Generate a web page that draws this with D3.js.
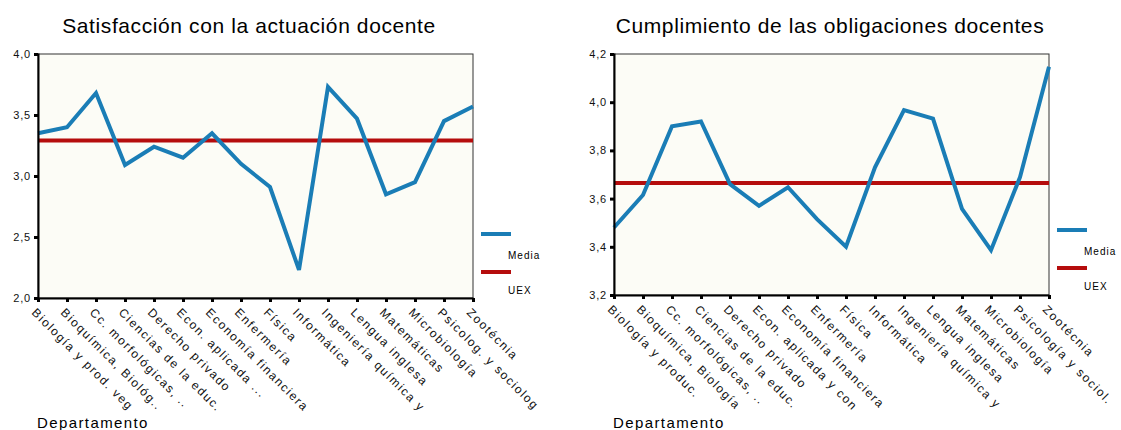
<!DOCTYPE html>
<meta charset="utf-8">
<style>
body { margin: 0; background: #fff; }
text { font-family: "Liberation Sans", Arial, sans-serif; }
</style>
<body>
<script src="https://d3js.org/d3.v7.min.js"></script>
<script>

var width = 1121, height = 430;

// left chart
var cats1 = ["Biología y prod. veg", "Bioquímica, Biológ..", "Cc. morfológicas, ..", "Ciencias de la educ.",
  "Derecho privado", "Econ. aplicada ...", "Economía financiera", "Enfermería", "Física", "Informática",
  "Ingeniería química y", "Lengua inglesa", "Matemáticas", "Microbiología", "Psicolog. y sociolog", "Zootécnia"];
var media1 = [3.35, 3.40, 3.68, 3.09, 3.24, 3.15, 3.35, 3.10, 2.91, 2.23, 3.73, 3.47, 2.85, 2.95, 3.45, 3.57];
var uex1 = 3.29;
var ticks1 = [2.0, 2.5, 3.0, 3.5, 4.0];

// right chart
var cats2 = ["Biología y produc.", "Bioquímica, Biología", "Cc. morfológicas, ..", "Ciencias de la educ.",
  "Derecho privado", "Econ. aplicada y con", "Economía financiera", "Enfermería", "Física", "Informática",
  "Ingeniería química y", "Lengua inglesa", "Matemáticas", "Microbiología", "Psicología y sociol.", "Zootécnia"];
var media2 = [3.48, 3.615, 3.90, 3.92, 3.66, 3.57, 3.647, 3.515, 3.40, 3.73, 3.967, 3.932, 3.557, 3.386, 3.689, 4.147];
var uex2 = 3.665;
var ticks2 = [3.2, 3.4, 3.6, 3.8, 4.0, 4.2];

var svg = d3.select("body").append("svg")
    .attr("width", width)
    .attr("height", height);

var fmt = function(d) { return d3.format(".1f")(d).replace(".", ","); };

function chart(opt) {
  var g = svg.append("g");

  var x = d3.scalePoint().domain(opt.cats).range([opt.x0, opt.x1]);
  var y = d3.scaleLinear().domain(opt.domain).range([opt.y1, opt.y0]);

  g.append("text")
      .attr("x", opt.titleX)
      .attr("y", 33)
      .attr("text-anchor", "middle")
      .style("font-size", "21px")
      .style("letter-spacing", "0.6px")
      .text(opt.title);

  g.append("rect")
      .attr("x", opt.x0).attr("y", opt.y0)
      .attr("width", opt.x1 - opt.x0).attr("height", opt.y1 - opt.y0)
      .attr("fill", "#fcfcf6")
      .attr("stroke", "#333")
      .attr("stroke-width", 1);

  // UEX reference line
  g.append("line")
      .attr("x1", opt.x0).attr("x2", opt.x1)
      .attr("y1", y(opt.uex)).attr("y2", y(opt.uex))
      .attr("stroke", "#b50d0d")
      .attr("stroke-width", 4);

  var line = d3.line()
      .x(function(d, i) { return x(opt.cats[i]); })
      .y(function(d) { return y(d); });

  g.append("path")
      .datum(opt.media)
      .attr("d", line)
      .attr("fill", "none")
      .attr("stroke", "#1a7db6")
      .attr("stroke-width", 4)
      .attr("stroke-linejoin", "miter");

  var ya = g.append("g")
      .attr("transform", "translate(" + opt.x0 + ",0)")
      .call(d3.axisLeft(y).tickValues(opt.ticks).tickSize(4).tickPadding(3).tickFormat(fmt));
  ya.select(".domain").attr("stroke", "#000").attr("stroke-width", 2);
  ya.selectAll(".tick line").attr("stroke", "#000").attr("stroke-width", 3);
  ya.selectAll(".tick text").style("font-size", "11px").style("letter-spacing", "0.8px").attr("fill", "#111");

  var xa = g.append("g")
      .attr("transform", "translate(0," + opt.y1 + ")")
      .call(d3.axisBottom(x).tickSize(4).tickSizeOuter(0));
  xa.select(".domain").attr("stroke", "#000").attr("stroke-width", 2);
  xa.selectAll(".tick line").attr("stroke", "#000").attr("stroke-width", 3);
  xa.selectAll(".tick text")
      .attr("text-anchor", "start")
      .attr("transform", "translate(-3,8) rotate(45)")
      .attr("dy", "0.7em")
      .attr("x", 2)
      .attr("y", 0)
      .style("font-size", "12px")
      .style("letter-spacing", "1.6px")
      .attr("fill", "#111");

  // legend
  var lx = opt.legendX;
  g.append("line").attr("x1", lx).attr("x2", lx + 30)
      .attr("y1", opt.legendY).attr("y2", opt.legendY)
      .attr("stroke", "#1a7db6").attr("stroke-width", 4);
  g.append("text").attr("x", lx + 27).attr("y", opt.legendY + 25)
      .style("font-size", "10px").style("letter-spacing", "1px").text("Media");
  g.append("line").attr("x1", lx).attr("x2", lx + 30)
      .attr("y1", opt.legendY + 38).attr("y2", opt.legendY + 38)
      .attr("stroke", "#b50d0d").attr("stroke-width", 4);
  g.append("text").attr("x", lx + 27).attr("y", opt.legendY + 60)
      .style("font-size", "10px").style("letter-spacing", "1px").text("UEX");

  g.append("text")
      .attr("x", opt.x0 - 1)
      .attr("y", 428)
      .style("font-size", "15px")
      .style("letter-spacing", "1.4px")
      .text("Departamento");
}

chart({
  title: "Satisfacción con la actuación docente", titleX: 249,
  cats: cats1, media: media1, uex: uex1, ticks: ticks1, domain: [2.0, 4.0],
  x0: 38, x1: 473, y0: 54, y1: 298,
  legendX: 481, legendY: 234
});

chart({
  title: "Cumplimiento de las obligaciones docentes", titleX: 830,
  cats: cats2, media: media2, uex: uex2, ticks: ticks2, domain: [3.2, 4.2],
  x0: 614, x1: 1049, y0: 54, y1: 295,
  legendX: 1057, legendY: 230
});

</script>
